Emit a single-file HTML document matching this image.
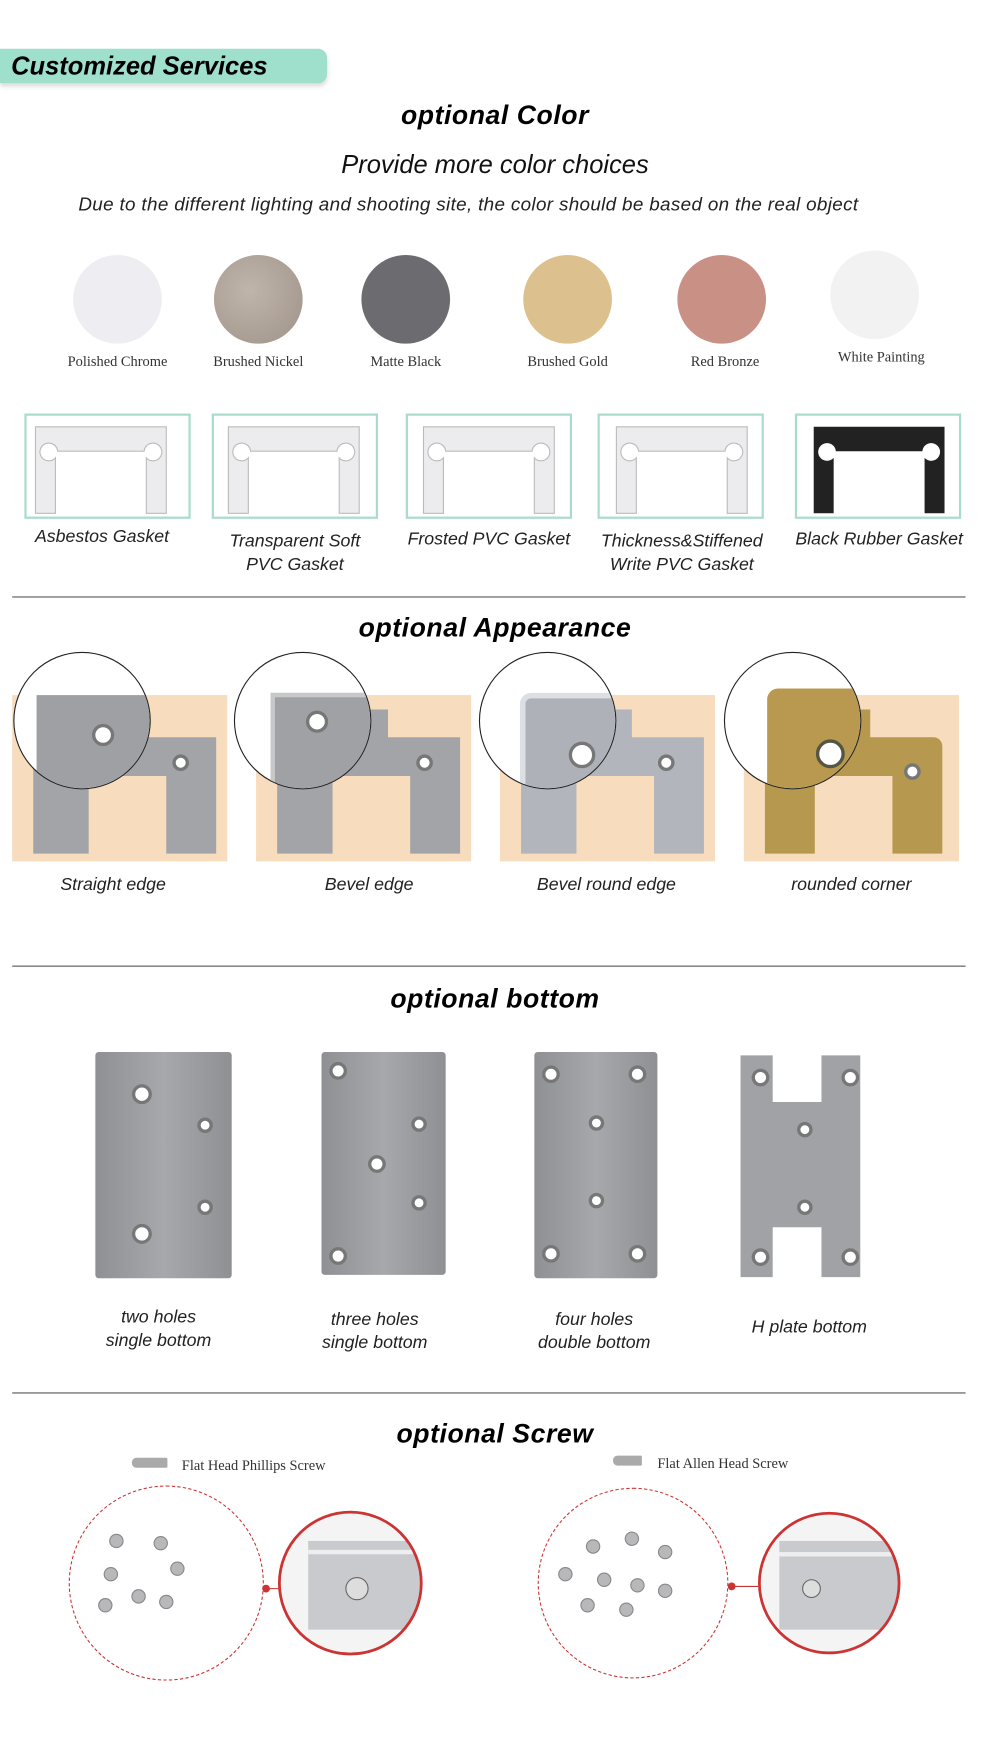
<!DOCTYPE html>
<html><head><meta charset="utf-8"><style>
html,body{margin:0;padding:0;background:#fff;width:990px;height:1760px;overflow:hidden}
#w{position:absolute;left:0;top:0;width:893px;height:1588px;transform:scale(1.1086);transform-origin:0 0;font-family:"Liberation Sans",sans-serif}
.a{position:absolute}
.t{position:absolute;left:0;width:893px;text-align:center;font-weight:bold;font-style:italic;font-size:24px;letter-spacing:0.5px;color:#000}
.it{position:absolute;font-style:italic;font-size:16px;color:#222;text-align:center;white-space:nowrap}
.se{position:absolute;font-family:"Liberation Serif",serif;font-size:13px;color:#333;text-align:center;white-space:nowrap}
.c{position:absolute;border-radius:50%;width:80px;height:80px}
.g{position:absolute;border:2px solid #a9dccb;top:373px;height:95px;box-sizing:border-box}
.hr{position:absolute;left:11px;width:860px;height:1px;background:#555}
.bg{position:absolute;background:#f7dcbd;top:627px;height:150px;width:194px}
.mg{position:absolute;width:122px;height:122px;border-radius:50%;border:1px solid #222;background:#fff;top:588px;overflow:hidden}
.pl{position:absolute;background:linear-gradient(90deg,#8e9094,#a6a8ac 50%,#8e9094);border-radius:3px}
.h{position:absolute;border-radius:50%;background:#fff;border:3px solid #777;box-sizing:border-box;width:14px;height:14px}
</style></head><body><div id="w">
<div class="a" style="left:0;top:44px;width:295px;height:31px;background:#9ee0cc;border-radius:0 8px 8px 0;box-shadow:0 3px 4px #ddd"></div>
<div class="a" style="left:10px;top:44px;font-size:23px;font-weight:bold;font-style:italic;line-height:30px">Customized Services</div>
<div class="t" style="top:91px">optional Color</div>
<div class="a" style="left:0;width:893px;text-align:center;top:135px;font-size:23px;font-style:italic;color:#111">Provide more color choices</div>
<div class="a" style="left:50px;width:745px;text-align:center;top:175px;font-size:17px;font-style:italic;color:#222;letter-spacing:0.3px;white-space:nowrap">Due to the different lighting and shooting site, the color should be based on the real object</div>
<div class="c" style="left:66px;top:230px;background:#eeeef2"></div>
<div class="c" style="left:193px;top:230px;background:radial-gradient(circle at 40% 40%,#c0b5aa,#9f9389)"></div>
<div class="c" style="left:326px;top:230px;background:#6b6b70"></div>
<div class="c" style="left:472px;top:230px;background:#dcc08d"></div>
<div class="c" style="left:611px;top:230px;background:#c99085"></div>
<div class="c" style="left:749px;top:226px;background:#f2f2f3"></div>
<div class="se" style="left:46px;width:120px;top:318px">Polished Chrome</div>
<div class="se" style="left:173px;width:120px;top:318px">Brushed Nickel</div>
<div class="se" style="left:306px;width:120px;top:318px">Matte Black</div>
<div class="se" style="left:452px;width:120px;top:318px">Brushed Gold</div>
<div class="se" style="left:594px;width:120px;top:318px">Red Bronze</div>
<div class="se" style="left:735px;width:120px;top:314px">White Painting</div>
<div class="g" style="left:22px;width:150px"></div>
<div class="g" style="left:191px;width:150px"></div>
<div class="g" style="left:366px;width:150px"></div>
<div class="g" style="left:539px;width:150px"></div>
<div class="g" style="left:717px;width:150px"></div>
<svg class="a" style="left:0;top:373px" width="893" height="95">
<defs><path id="gk" d="M0 0h118v78h-18v-50a8 8 0 1 0 -2 -6h-78a8 8 0 1 0 -2 6v50h-18z"/></defs>
<g fill="#ececee" stroke="#bbb"><use href="#gk" x="32" y="12"/><use href="#gk" x="206" y="12"/><use href="#gk" x="382" y="12"/><use href="#gk" x="556" y="12"/></g>
<use href="#gk" x="734" y="12" fill="#222"/></svg>
<div class="it" style="left:12px;width:160px;top:476px">Asbestos Gasket</div>
<div class="it" style="left:186px;width:160px;top:478px;line-height:21px">Transparent Soft<br>PVC Gasket</div>
<div class="it" style="left:358px;width:166px;top:478px">Frosted PVC Gasket</div>
<div class="it" style="left:530px;width:170px;top:478px;line-height:21px">Thickness&amp;Stiffened<br>Write PVC Gasket</div>
<div class="it" style="left:706px;width:174px;top:478px">Black Rubber Gasket</div>
<div class="hr" style="top:538px"></div>
<div class="t" style="top:553px">optional Appearance</div>
<div class="bg" style="left:11px"></div><div class="bg" style="left:231px"></div><div class="bg" style="left:451px"></div><div class="bg" style="left:671px"></div>
<svg class="a" style="left:0;top:620px" width="893" height="160">
<g fill="#a3a4a8"><path d="M30 20h100v25h65v105h-45v-70h-70v70h-50z"/><path d="M250 20h100v25h65v105h-45v-70h-70v70h-50z"/></g>
<path d="M470 20h100v25h65v105h-45v-70h-70v70h-50z" fill="#b2b6bc"/>
<path d="M690 20h95v25h57a8 8 0 0 1 8 8v97h-45v-70h-70v70h-45z" fill="#b6984f"/>
<g fill="#fff" stroke="#777" stroke-width="3"><circle cx="163" cy="68" r="6"/><circle cx="383" cy="68" r="6"/><circle cx="601" cy="68" r="6"/><circle cx="823" cy="76" r="6"/></g></svg>
<div class="mg" style="left:12px"><div class="a" style="left:20px;top:38px;width:110px;height:90px;background:#9fa0a4"></div><div class="h" style="left:70px;top:64px;width:20px;height:20px"></div></div>
<div class="mg" style="left:211px"><div class="a" style="left:32px;top:36px;width:100px;height:90px;background:#a0a1a5;border:4px solid #c8c8ca"></div><div class="h" style="left:64px;top:52px;width:20px;height:20px"></div></div>
<div class="mg" style="left:432px"><div class="a" style="left:36px;top:36px;width:100px;height:90px;background:#aeb2b8;border:5px solid #dcdfe3;border-radius:10px 0 0 0"></div><div class="h" style="left:80px;top:80px;width:24px;height:24px"></div></div>
<div class="mg" style="left:653px"><div class="a" style="left:38px;top:32px;width:100px;height:100px;background:#b8994f;border-radius:10px 0 0 0"></div><div class="h" style="left:82px;top:78px;width:26px;height:26px;border-color:#554"></div></div>
<div class="it" style="left:12px;width:180px;top:790px">Straight edge</div>
<div class="it" style="left:243px;width:180px;top:790px">Bevel edge</div>
<div class="it" style="left:457px;width:180px;top:790px">Bevel round edge</div>
<div class="it" style="left:678px;width:180px;top:790px">rounded corner</div>
<div class="hr" style="top:871px"></div>
<div class="t" style="top:888px">optional bottom</div>
<div class="pl" style="left:86px;top:949px;width:123px;height:204px"></div>
<div class="pl" style="left:290px;top:949px;width:112px;height:201px"></div>
<div class="pl" style="left:482px;top:949px;width:111px;height:204px"></div>
<svg class="a" style="left:660px;top:945px" width="130" height="215"><path d="M8 7h29v42h44v-42h35v200h-35v-45h-44v45h-29z" fill="#a0a2a6"/></svg>
<div class="h" style="left:119px;top:978px;width:18px;height:18px"></div><div class="h" style="left:178px;top:1008px"></div><div class="h" style="left:178px;top:1082px"></div><div class="h" style="left:119px;top:1104px;width:18px;height:18px"></div>
<div class="h" style="left:297px;top:958px;width:16px;height:16px"></div><div class="h" style="left:371px;top:1007px"></div><div class="h" style="left:332px;top:1042px;width:16px;height:16px"></div><div class="h" style="left:371px;top:1078px"></div><div class="h" style="left:297px;top:1125px;width:16px;height:16px"></div>
<div class="h" style="left:489px;top:961px;width:16px;height:16px"></div><div class="h" style="left:567px;top:961px;width:16px;height:16px"></div><div class="h" style="left:531px;top:1006px"></div><div class="h" style="left:531px;top:1076px"></div><div class="h" style="left:489px;top:1123px;width:16px;height:16px"></div><div class="h" style="left:567px;top:1123px;width:16px;height:16px"></div>
<div class="h" style="left:678px;top:964px;width:16px;height:16px"></div><div class="h" style="left:759px;top:964px;width:16px;height:16px"></div><div class="h" style="left:719px;top:1012px"></div><div class="h" style="left:719px;top:1082px"></div><div class="h" style="left:678px;top:1126px;width:16px;height:16px"></div><div class="h" style="left:759px;top:1126px;width:16px;height:16px"></div>
<div class="it" style="left:63px;width:160px;top:1178px;line-height:21px">two holes<br>single bottom</div>
<div class="it" style="left:258px;width:160px;top:1180px;line-height:21px">three holes<br>single bottom</div>
<div class="it" style="left:456px;width:160px;top:1180px;line-height:21px">four holes<br>double bottom</div>
<div class="it" style="left:650px;width:160px;top:1189px">H plate bottom</div>
<div class="hr" style="top:1256px"></div>
<div class="t" style="top:1280px">optional Screw</div>
<div class="a" style="left:119px;top:1315px;width:32px;height:9px;background:#aaa;border-radius:4px 1px 1px 4px"></div>
<div class="se" style="left:164px;top:1314px">Flat Head Phillips Screw</div>
<div class="a" style="left:553px;top:1313px;width:26px;height:9px;background:#aaa;border-radius:4px 1px 1px 4px"></div>
<div class="se" style="left:593px;top:1312px">Flat Allen Head Screw</div>
<div class="a" style="left:62px;top:1340px;width:176px;height:176px;border:1.5px dashed #c33;border-radius:50%;box-sizing:border-box"></div>
<div class="a" style="left:485px;top:1342px;width:172px;height:172px;border:1.5px dashed #c33;border-radius:50%;box-sizing:border-box"></div>
<svg class="a" style="left:0;top:1340px" width="893" height="180">
<g fill="#b8b8bb" stroke="#888"><circle cx="105" cy="50" r="6"/><circle cx="145" cy="52" r="6"/><circle cx="100" cy="80" r="6"/><circle cx="160" cy="75" r="6"/><circle cx="125" cy="100" r="6"/><circle cx="95" cy="108" r="6"/><circle cx="150" cy="105" r="6"/>
<circle cx="535" cy="55" r="6"/><circle cx="570" cy="48" r="6"/><circle cx="600" cy="60" r="6"/><circle cx="510" cy="80" r="6"/><circle cx="545" cy="85" r="6"/><circle cx="575" cy="90" r="6"/><circle cx="530" cy="108" r="6"/><circle cx="565" cy="112" r="6"/><circle cx="600" cy="95" r="6"/></g>
<line x1="240" y1="93" x2="262" y2="93" stroke="#c33"/><circle cx="240" cy="93" r="3.5" fill="#c33"/>
<line x1="660" y1="91" x2="684" y2="91" stroke="#c33"/><circle cx="660" cy="91" r="3.5" fill="#c33"/>
<clipPath id="k1"><circle cx="316" cy="88" r="64"/></clipPath><clipPath id="k2"><circle cx="748" cy="88" r="63"/></clipPath>
<g clip-path="url(#k1)"><rect x="250" y="20" width="140" height="140" fill="#f4f4f4"/><rect x="278" y="50" width="120" height="80" fill="#c9cacd"/><rect x="278" y="58" width="120" height="4" fill="#eee"/><circle cx="322" cy="93" r="10" fill="#ddd" stroke="#666"/></g>
<g clip-path="url(#k2)"><rect x="680" y="20" width="140" height="140" fill="#f4f4f4"/><rect x="703" y="50" width="120" height="80" fill="#c9cacd"/><rect x="703" y="60" width="120" height="4" fill="#eee"/><circle cx="732" cy="93" r="8" fill="#ddd" stroke="#666"/></g>
<circle cx="316" cy="88" r="64" fill="none" stroke="#c33" stroke-width="2.5"/>
<circle cx="748" cy="88" r="63" fill="none" stroke="#c33" stroke-width="2.5"/>
</svg>
</div></body></html>
